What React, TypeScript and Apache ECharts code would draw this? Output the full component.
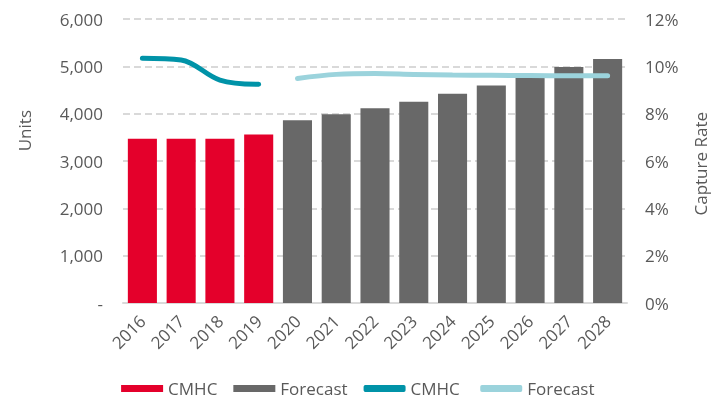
import React, { useEffect, useRef } from "react";
import * as echarts from "echarts";

const years = ["2016","2017","2018","2019","2020","2021","2022","2023","2024","2025","2026","2027","2028"];
const cmhcUnits = [3470, 3470, 3470, 3560, null, null, null, null, null, null, null, null, null];
const forecastUnits = [null, null, null, null, 3860, 3990, 4115, 4250, 4420, 4595, 4790, 4985, 5155];
const cmhcRate = [10.34, 10.27, 9.42, 9.24, null, null, null, null, null, null, null, null, null];
const forecastRate = [null, null, null, null, 9.49, 9.66, 9.7, 9.66, 9.63, 9.62, 9.61, 9.6, 9.6];
const unitTicks = { min: 0, max: 6000, interval: 1000 };
const rateTicks = { min: 0, max: 12, interval: 2 };

const FONT = "Open Sans";
const TXT = "#595959";
const RED = "#E4002B";
const GRAY = "#686868";
const TEAL = "#0093A8";
const LIGHT = "#9BD3DC";

export default function App() {
  const ref = useRef<HTMLDivElement>(null);
  useEffect(() => {
    const chart = echarts.init(ref.current!, null, { renderer: "svg" });
    chart.setOption({
      animation: false,
      textStyle: { fontFamily: FONT, color: TXT },
      grid: { left: 123, right: 93, top: 19, bottom: 99 },
      legend: {
        bottom: 0,
        left: "center",
        itemWidth: 42,
        itemHeight: 7,
        itemGap: 16,
        textStyle: { fontFamily: FONT, fontSize: 17, color: TXT },
        data: [
          { name: "CMHC", icon: "rect" },
          { name: "Forecast", icon: "rect" },
          { name: "CMHC ", icon: "roundRect" },
          { name: "Forecast ", icon: "roundRect" },
        ],
      },
      graphic: [
        { type: "text", left: 16, top: 110, rotation: Math.PI / 2, style: { text: "Units", font: `17px "${FONT}"`, fill: TXT } },
        { type: "text", left: 692, top: 112, rotation: Math.PI / 2, style: { text: "Capture Rate", font: `17px "${FONT}"`, fill: TXT } },
      ],
      xAxis: {
        type: "category",
        data: years,
        axisLine: { lineStyle: { color: "#D9D9D9", width: 2 } },
        axisTick: { show: false },
        axisLabel: { rotate: 45, fontSize: 17, color: TXT, margin: 15, fontFamily: FONT },
      },
      yAxis: [
        {
          type: "value",
          ...unitTicks,
          axisLine: { show: false },
          axisTick: { show: false },
          splitLine: { lineStyle: { color: "#D9D9D9", width: 2, type: [7, 4] } },
          axisLabel: {
            fontSize: 17,
            color: TXT,
            margin: 20,
            fontFamily: FONT,
            formatter: (v: number) => (v === 0 ? "-" : v.toLocaleString("en-US")),
          },
        },
        {
          type: "value",
          ...rateTicks,
          axisLine: { show: false },
          axisTick: { show: false },
          splitLine: { show: false },
          axisLabel: { fontSize: 17, color: TXT, margin: 18, fontFamily: FONT, formatter: (v: number) => `${v}%` },
        },
      ],
      series: [
        { name: "CMHC", type: "bar", stack: "u", data: cmhcUnits, itemStyle: { color: RED }, barCategoryGap: "25%" },
        { name: "Forecast", type: "bar", stack: "u", data: forecastUnits, itemStyle: { color: GRAY }, barCategoryGap: "25%" },
        {
          name: "CMHC ", type: "line", yAxisIndex: 1, data: cmhcRate, smooth: 0.35, symbol: "none",
          lineStyle: { color: TEAL, width: 5, cap: "round" }, itemStyle: { color: TEAL },
        },
        {
          name: "Forecast ", type: "line", yAxisIndex: 1, data: forecastRate, smooth: 0.35, symbol: "none",
          lineStyle: { color: LIGHT, width: 5, cap: "round" }, itemStyle: { color: LIGHT },
        },
      ],
    });
    return () => chart.dispose();
  }, []);
  return <div ref={ref} style={{ width: 720, height: 402, position: "fixed", left: 0, top: 0 }} />;
}
